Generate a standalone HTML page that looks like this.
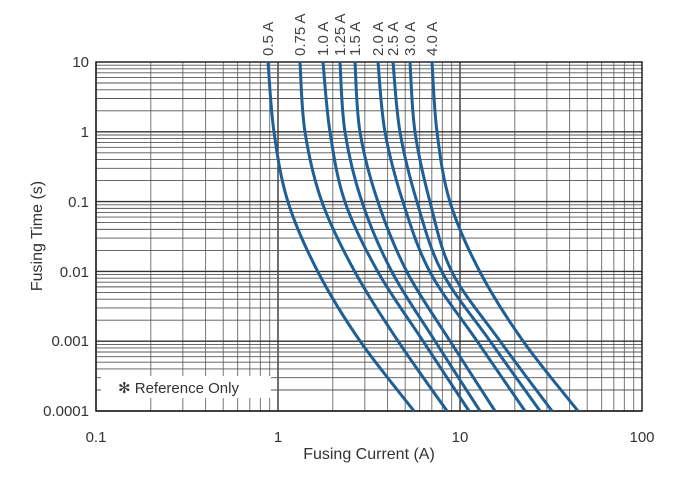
<!DOCTYPE html><html><head><style>body{margin:0;background:#fff}svg{font-family:"Liberation Sans",sans-serif}</style></head><body>
<svg id="s" width="693" height="483" xmlns="http://www.w3.org/2000/svg"></svg>
<script>
const s=document.getElementById('s');let h='';
const X0=96,X1=642,Y0=411,Y1=62;
const xp=v=>X0+(Math.log10(v)+1)*(X1-X0)/3, yp=v=>Y0-(Math.log10(v)+4)*(Y0-Y1)/5;
for(let d=-1;d<2;d++)for(let m=1;m<10;m++){const x=xp(m*Math.pow(10,d));h+=`<line x1="${x}" x2="${x}" y1="${Y1}" y2="${Y0}" stroke="${m==1?'#333':'#777'}" stroke-width="${m==1?1.4:1}"/>`;}
for(let d=-4;d<1;d++)for(let m=1;m<10;m++){const y=yp(m*Math.pow(10,d));h+=`<line x1="${X0}" x2="${X1}" y1="${y}" y2="${y}" stroke="${m==1?'#333':'#555'}" stroke-width="${m==1?1.4:0.9}"/>`;}
h+=`<rect x="${X0}" y="${Y1}" width="${X1-X0}" height="${Y0-Y1}" fill="none" stroke="#222" stroke-width="1.5"/>`;
const ys=[62,132,202,272,341,411];
const C=[[268,274,288,318,360,414],[300,305,322,355,398,447],[323,330,345,378,423,469],[340,345,362,392,435,480],[355,360,378,407,450,495],[378,385,403,430,477,525],[393,400,417,442,490,540],[410,415,430,452,500,552],[432,437,450,480,523,578]];
C.forEach(c=>{const p=c.map((x,i)=>[x,ys[i]]);let d=`M${p[0][0]},${p[0][1]}`;
for(let i=0;i<p.length-1;i++){const a=p[Math.max(0,i-1)],b=p[i],e=p[i+1],f=p[Math.min(p.length-1,i+2)];
d+=` C${b[0]+(e[0]-a[0])/6},${b[1]+(e[1]-a[1])/6} ${e[0]-(f[0]-b[0])/6},${e[1]-(f[1]-b[1])/6} ${e[0]},${e[1]}`;}
h+=`<path d="${d}" fill="none" stroke="#1f5f96" stroke-width="3"/>`;});
['0.5 A','0.75 A','1.0 A','1.25 A','1.5 A','2.0 A','2.5 A','3.0 A','4.0 A'].forEach((t,i)=>{const x=[268,300,323,340,355,378,393,410,432][i]+5;h+=`<text transform="translate(${x},56) rotate(-90)" font-size="15" fill="#444">${t}</text>`;});
[['10',62],['1',132],['0.1',202],['0.01',272],['0.001',341],['0.0001',411]].forEach(([t,y])=>h+=`<text x="89" y="${y+5}" text-anchor="end" font-size="15" fill="#333">${t}</text>`);
[['0.1',96],['1',278],['10',460],['100',642]].forEach(([t,x])=>h+=`<text x="${x}" y="442" text-anchor="middle" font-size="15" fill="#333">${t}</text>`);
h+=`<text x="369" y="459" text-anchor="middle" font-size="16" fill="#333">Fusing Current (A)</text>`;
h+=`<text transform="translate(42,236) rotate(-90)" text-anchor="middle" font-size="16" fill="#333">Fusing Time (s)</text>`;
h+=`<rect x="101" y="376" width="170" height="22" fill="#fff"/><text x="118" y="393" font-size="15" fill="#333">✻ Reference Only</text>`;
s.innerHTML=h;
</script></body></html>
